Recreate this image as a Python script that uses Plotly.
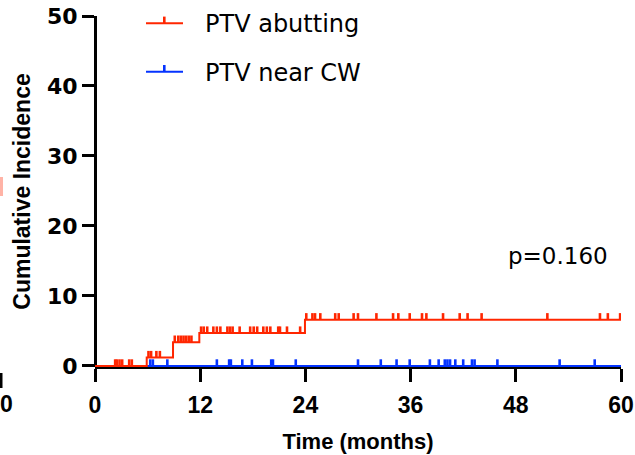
import numpy as np
import plotly.graph_objects as go

# ---------------- data ----------------
# PTV abutting: cumulative incidence step curve (months, %)
abut_step_t = [0, 5.9, 8.9, 11.9, 23.95, 60]
abut_step_y = [0, 1.2, 3.4, 4.7, 6.6, 6.6]
abut_censor_t = [2.3, 2.5, 2.8, 3.1, 3.9, 4.2,
                 6.1, 6.4, 7.0, 7.4,
                 9.1, 9.5, 9.8, 10.1, 10.4, 10.7, 11.0,
                 12.1, 12.4, 12.8, 13.5, 13.9, 14.3, 15.1, 15.4, 15.7, 16.5,
                 17.7, 18.1, 18.5, 19.2, 19.6, 20.0, 20.9, 21.1, 21.9, 23.4,
                 24.1, 24.8, 25.1, 25.7, 27.4, 27.8, 29.5, 30.0, 32.1, 34.0,
                 34.6, 35.9, 37.3, 37.8, 39.7, 41.6, 42.5, 44.1, 51.6, 57.6,
                 58.5, 59.9]

# PTV near CW: no events
near_step_t = [0, 60]
near_step_y = [0, 0]
near_censor_t = [6.3, 6.6, 8.25, 13.9, 15.3, 15.5, 16.8, 17.9, 20.1, 20.3,
                 22.9, 30.0, 32.6, 34.4, 35.9, 38.2, 39.2, 39.9, 40.2, 40.5,
                 41.1, 42.0, 43.0, 43.3, 45.9, 53.0, 57.0]

x_ticks = [0, 12, 24, 36, 48, 60]
y_ticks = [0, 10, 20, 30, 40, 50]
p_text = "p=0.160"
names = ["PTV abutting", "PTV near CW"]

RED = "#FF2600"
BLUE = "#0433FF"


def level_at(step_t, step_y, t):
    idx = np.searchsorted(np.array(step_t), np.array(t), side="right") - 1
    return list(np.array(step_y)[idx])


fig = go.Figure()

for st, sy, ct, col, nm in [
    (near_step_t, near_step_y, near_censor_t, BLUE, names[1]),
    (abut_step_t, abut_step_y, abut_censor_t, RED, names[0]),
]:
    fig.add_trace(go.Scatter(
        x=st, y=sy, mode="lines", line=dict(color=col, width=2, shape="hv"),
        name=nm, showlegend=False, hoverinfo="skip"))
    fig.add_trace(go.Scatter(
        x=ct, y=level_at(st, sy, ct), mode="markers",
        marker=dict(size=1, color=col, opacity=0),
        error_y=dict(type="constant", value=0.95, valueminus=0, symmetric=False,
                     color=col, thickness=2.6, width=0),
        showlegend=False, cliponaxis=False, hoverinfo="skip"))

# ---------------- layout ----------------
L, R, T, B = 95, 14, 16, 88
W, H = 635, 455
pw, ph = W - L - R, H - T - B


def px(xp):
    return (xp - L) / pw


def py(yp):
    return (H - B - yp) / ph


fig.update_layout(
    width=W, height=H,
    margin=dict(l=L, r=R, t=T, b=B, pad=0, autoexpand=False),
    paper_bgcolor="white", plot_bgcolor="white",
    showlegend=False,
    xaxis=dict(range=[0, 60], tickvals=x_ticks, ticktext=[str(v) for v in x_ticks],
               showgrid=False, zeroline=False, showline=True, linecolor="black",
               linewidth=3, ticks="outside", ticklen=13, tickwidth=3,
               tickcolor="black", anchor="free", position=0, layer="below traces",
               automargin=False, ticklabelstandoff=3,
               tickfont=dict(family="Arial", size=23, color="black", weight="bold"),
               title=dict(text="<b>Time (months)</b>", standoff=17,
                          font=dict(family="Arial", size=22, color="black"))),
    yaxis=dict(range=[-0.15, 50], tickvals=y_ticks, ticktext=[str(v) for v in y_ticks],
               showgrid=False, zeroline=False, showline=True, linecolor="black",
               linewidth=3, ticks="outside", ticklen=12, tickwidth=3,
               tickcolor="black", anchor="free", position=0, layer="below traces",
               automargin=False,
               tickfont=dict(family="DejaVu Sans", size=22, color="black", weight="bold"),
               title=dict(text="<b>Cumulative Incidence</b>", standoff=8,
                          font=dict(family="Arial", size=23, color="black"))),
)

# manual legend
leg = [(names[0], RED, 23.3), (names[1], BLUE, 71.7)]
for nm, col, yy in leg:
    fig.add_shape(type="line", xref="paper", yref="paper",
                  x0=px(146), x1=px(183), y0=py(yy), y1=py(yy),
                  line=dict(color=col, width=2))
    fig.add_shape(type="line", xref="paper", yref="paper",
                  x0=px(164.3), x1=px(164.3), y0=py(yy), y1=py(yy - 6.7),
                  line=dict(color=col, width=2.6))
    fig.add_annotation(text=nm, xref="paper", yref="paper", x=px(203), y=py(yy + 1),
                       xanchor="left", yanchor="middle", showarrow=False,
                       font=dict(family="DejaVu Sans", size=24, color="black"))

fig.add_annotation(text=p_text, xref="paper", yref="paper", x=px(506), y=py(256),
                   xanchor="left", yanchor="middle", showarrow=False,
                   font=dict(family="DejaVu Sans", size=23, color="black"))

# fragments of neighbouring panel at the left edge
fig.add_annotation(text="<b>0</b>", xref="paper", yref="paper", x=px(6), y=py(404),
                   xanchor="center", yanchor="middle", showarrow=False,
                   font=dict(family="Arial", size=23, color="black"))
fig.add_shape(type="line", xref="paper", yref="paper", x0=px(1), x1=px(1),
              y0=py(373), y1=py(388), line=dict(color="black", width=3))
fig.add_shape(type="rect", xref="paper", yref="paper", x0=px(0), x1=px(3),
              y0=py(196), y1=py(177), line=dict(width=0), fillcolor="#FFB3A6")

fig.write_html("out.html")
